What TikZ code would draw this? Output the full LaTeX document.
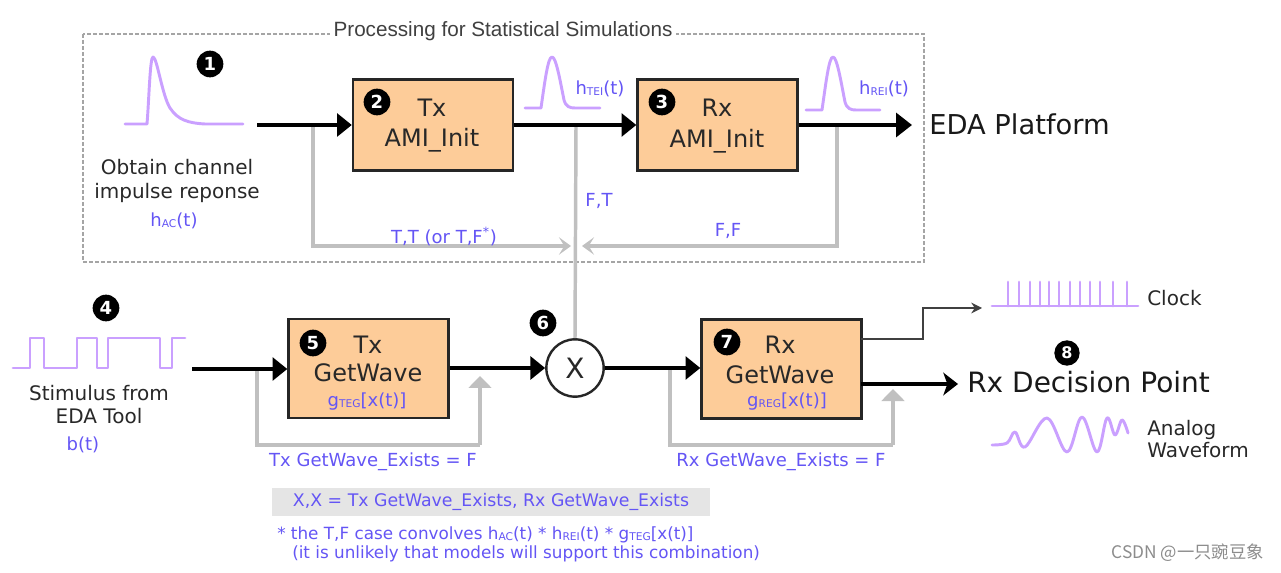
\documentclass[tikz,border=0pt]{standalone}
\usepackage{fontspec}
\setmainfont{DejaVu Sans}
\newfontfamily\titlefont{Liberation Sans}
\newfontfamily\cjkfont{Noto Sans CJK SC}
\usetikzlibrary{arrows.meta}
\newcommand\sbx[1]{\raisebox{-0.8pt}{\fontsize{8}{8}\selectfont #1}}
\definecolor{boxfill}{RGB}{253,204,153}
\definecolor{wavecol}{RGB}{202,160,255}
\definecolor{lblc}{RGB}{100,85,245}
\definecolor{fbgray}{RGB}{192,192,192}
\definecolor{dashgray}{RGB}{165,165,165}
\definecolor{txtc}{RGB}{40,40,40}
\tikzset{
  blk/.style={draw=black!85, fill=boxfill, line width=1.8pt, minimum width=120pt, minimum height=68pt, inner sep=0pt},
  blkb/.style={blk, minimum height=74pt},
  badge/.style={circle, fill=black, text=white, font=\bfseries\fontsize{13.5}{13.5}\selectfont, minimum size=20pt, inner sep=0pt},
  boxtxt/.style={font=\fontsize{18}{20}\selectfont, text=txtc, inner sep=0pt, text depth=0pt},
  body/.style={font=\fontsize{15}{17}\selectfont, text=txtc, inner sep=0pt, text depth=0pt},
  big/.style={font=\fontsize{20}{22}\selectfont, text=black!90, inner sep=0pt, text depth=0pt},
  lbl/.style={font=\fontsize{13.5}{15}\selectfont, text=lblc, inner sep=0pt, text depth=0pt},
  main/.style={line width=2.6pt, black, -{Triangle[length=11pt,width=17pt]}},
  fb/.style={line width=2.6pt, fbgray},
  fbtop/.style={fb, -{Stealth[length=9pt,width=13pt,inset=4pt]}},
  fbup/.style={fb, -{Triangle[length=9pt,width=17pt]}},
  wave/.style={line width=2.2pt, wavecol, line join=round, line cap=round},
}
\begin{document}
\begin{tikzpicture}[x=0.75pt,y=-0.75pt]
\useasboundingbox[fill=white] (0,0) rectangle (1281,573);

% dashed frame with title
\draw[dashgray, line width=1.6pt, dash pattern=on 3pt off 1.5pt] (83,34) rectangle (924,262);
\node[font=\titlefont\fontsize{15.5}{18}\selectfont, text=black!75, fill=white, inner xsep=3pt, inner ysep=1pt] (title) at (503,31) {Processing for Statistical Simulations};

% ---------- top row ----------
\node[blk] (b2) at (433,125) {};
\node[blk] (b3) at (717.5,125) {};
\node[boxtxt] (t2a) at (432,108) {Tx};
\node[boxtxt] (t2b) at (432,137) {AMI\_Init};
\node[boxtxt] (t3a) at (717,108) {Rx};
\node[boxtxt] (t3b) at (717,138) {AMI\_Init};

\node[badge] (n1) at (210,64) {1};
\node[badge] (n2) at (377,102) {2};
\node[badge] (n3) at (662,102) {3};

% waveforms top
\draw[wave] (125,124) -- (147,124) .. controls (149,100) and (150,57) .. (153,57) .. controls (157,57) and (162,95) .. (170,108) .. controls (178,120) and (188,123) .. (205,124) -- (243,124);
\draw[wave] (525,108) -- (541,108) .. controls (545,80) and (548,57) .. (552,57) .. controls (556,57) and (560,80) .. (564,100) .. controls (566,107) and (570,108) .. (575,108) -- (600,108);
\draw[wave] (806,110) -- (822,110) .. controls (826,82) and (829,57) .. (833,57) .. controls (837,57) and (841,82) .. (845,102) .. controls (847,109) and (851,110) .. (856,110) -- (880,110);

\node[body] (obt1) at (177,167) {Obtain channel};
\node[body] (obt2) at (177,191) {impulse reponse};
\node[lbl] (hac) at (174,220) {h\sbx{AC}(t)};
\node[lbl] (htei) at (600,88) {h\sbx{TEI}(t)};
\node[lbl] (hrei) at (884,88) {h\sbx{REI}(t)};
\node[big, font=\fontsize{20.5}{22}\selectfont, anchor=west] (eda) at (929,124) {EDA Platform};

% gray feedback (top)
\coordinate (c1) at (257,125);
\coordinate (fL) at (313,125);
\coordinate (fM) at (576,125);
\coordinate (fR) at (837,125);
\coordinate (tipL) at (571,246);
\coordinate (tipR) at (582,246);
\draw[fbtop] (fL) |- (tipL);
\draw[fbtop] (fR) |- (tipR);

\node[lbl] (ltt) at (444,235) {T,T (or T,F\textsuperscript{*})};
\node[lbl] (lft) at (599,200) {F,T};
\node[lbl] (lff) at (728,230) {F,F};

% ---------- bottom row ----------
\node[blkb] (b5) at (368.5,368.5) {};
\node[blkb] (b7) at (781.5,369) {};
\node[boxtxt] (t5a) at (368,345) {Tx};
\node[boxtxt] (t5b) at (368,373) {GetWave};
\node[lbl] (g5) at (367,400) {g\sbx{TEG}[x(t)]};
\node[boxtxt] (t7a) at (780,345) {Rx};
\node[boxtxt] (t7b) at (780,375) {GetWave};
\node[lbl] (g7) at (787,400) {g\sbx{REG}[x(t)]};

\node[circle, draw=black!85, line width=1.8pt, fill=white, minimum size=43pt, inner sep=0pt, font=\fontsize{21}{21}\selectfont, text=txtc] (x6) at (575,368) {X};

\node[badge] (n4) at (106,308) {4};
\node[badge] (n5) at (313,343) {5};
\node[badge] (n6) at (543,323) {6};
\node[badge] (n7) at (727,342) {7};
\node[badge, minimum size=19pt, font=\bfseries\fontsize{12}{12}\selectfont] (n8) at (1067,353) {8};

% vertical gray F,T line
\draw[fb] (fM) -- (x6.north);

% stimulus waveform
\draw[wave] (13,368) -- (30,368) -- (30,338) -- (44,338) -- (44,368) -- (77,368) -- (77,338) -- (97,338) -- (97,368) -- (108,368) -- (108,338) -- (160,338) -- (160,368) -- (172,368) -- (172,338) -- (185,338);
\node[body] (st1) at (99,393) {Stimulus from};
\node[body] (st2) at (99,416) {EDA Tool};
\node[lbl] (bt) at (83,444) {b(t)};

% gray feedback (bottom)
\coordinate (c4) at (192,369);
\coordinate (g5L) at (257,369);
\coordinate (g5R) at (480,445);
\coordinate (g5T) at (480,376);
\coordinate (g7L) at (670,369);
\coordinate (g7R) at (893,445);
\coordinate (g7T) at (893,389);
\draw[fb] (g5L) |- (g5R);
\draw[fbup] (g5R) -- (g5T);
\draw[fb] (g7L) |- (g7R);
\draw[fbup] (g7R) -- (g7T);
\node[lbl] (l5) at (373,460) {Tx GetWave\_Exists = F};
\node[lbl] (l7) at (781,460) {Rx GetWave\_Exists = F};

% main black arrows
\draw[main] (c1) -- (b2.west);
\draw[main] (b2.east) -- (b3.west);
\coordinate (edaTip) at (912,125);
\draw[line width=2.6pt, -{Triangle[length=12pt,width=18pt]}] (b3.east) -- (edaTip);
\draw[main] (c4) -- (b5.west |- c4);
\draw[main] (b5.east |- x6.west) -- (x6.west);
\draw[main] (x6.east) -- (b7.west |- x6.east);

% outputs of Rx GetWave
\coordinate (o7a) at (861,339);
\coordinate (o7b) at (861,384);
\coordinate (clkTip) at (982,308);
\coordinate (rxTip) at (958,384);
\draw[line width=2pt, black!75, -{Stealth[length=8pt,width=8pt]}] (o7a) -- (923,339) -- (923,308) -- (clkTip);
\draw[line width=2.6pt, -{Stealth[length=11pt,width=17pt,inset=3pt]}] (o7b) -- (rxTip);
\node[big, font=\fontsize{21}{23}\selectfont, anchor=west] (rxd) at (967,382) {Rx Decision Point};

% clock
\draw[wave] (992,306) -- (1138,306);
\foreach \sx in {1008,1019,1030,1040,1049,1059,1070,1080,1090,1100,1113,1127} \draw[wave] (\sx,306) -- (\sx,282);
\node[body, anchor=west] (clk) at (1147,298) {Clock};

% analog waveform
\draw[wave] plot[smooth, tension=0.6] coordinates {(992,445) (1007,443) (1015,432) (1025,447) (1047,418) (1067,452) (1082,417) (1097,452) (1107,418) (1115,435) (1122,420) (1128,433)};
\node[body, anchor=west] (an1) at (1147,428) {Analog};
\node[body, anchor=west] (an2) at (1147,450) {Waveform};

% legend
\node[fill=black!10, minimum width=328pt, minimum height=21.5pt, inner sep=0pt, font=\fontsize{13}{15}\selectfont, text=lblc] (leg) at (491,502) {X,X = Tx GetWave\_Exists, Rx GetWave\_Exists};
\node[lbl, font=\fontsize{12.6}{14}\selectfont, anchor=west] (fn1) at (277,533) {* the T,F case convolves h\sbx{AC}(t) * h\sbx{REI}(t) * g\sbx{TEG}[x(t)]};
\node[lbl, font=\fontsize{12.6}{14}\selectfont, anchor=west] (fn2) at (292,552) {(it is unlikely that models will support this combination)};

\node[font=\cjkfont\fontsize{13}{13}\selectfont, text=black!45, anchor=east, inner sep=0pt] (csdn) at (1264,553) {CSDN @一只豌豆象};
\end{tikzpicture}
\end{document}
